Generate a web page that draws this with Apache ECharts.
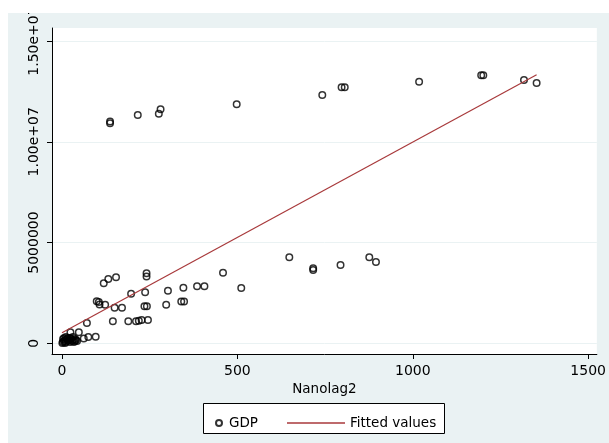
<!DOCTYPE html>
<html>
<head>
<meta charset="utf-8">
<style>html,body{margin:0;padding:0;background:#fff;}#c{width:609px;height:443px;}</style>
<script src="https://cdn.jsdelivr.net/npm/echarts@6/dist/echarts.min.js"></script>
</head>
<body>
<div id="c"></div>
<script>
// Nanolag2 (x) and GDP (y) values
const nanolag2 = [3,6,9,11,14,17,20,23,26,29,31,34,37,40,43,6,11,17,1,3,9,23,31,37,
  24,48,71,62,75,96,
  99,105,107,123,119,132,154,145,150,171,189,197,211,219,227,245,237,235,242,241,241,297,302,340,348,346,385,406,459,511,
  648,716,716,794,876,895,
  137,137,216,281,276,498,742,797,806,1018,1195,1201,1317,1353];
const gdp = [65000,114000,164000,65000,213000,114000,164000,65000,213000,114000,164000,65000,114000,164000,114000,263000,313000,263000,15000,213000,15000,263000,313000,213000,
  546000,546000,1007000,238000,313000,327000,
  2084000,2049000,1925000,1915000,2977000,3190000,3275000,1097000,1761000,1766000,1092000,2456000,1092000,1121000,1156000,1156000,2531000,1841000,1841000,3320000,3480000,1915000,2605000,2074000,2074000,2754000,2828000,2828000,3503000,2744000,
  4267000,3640000,3730000,3885000,4267000,4034000,
  10920000,11010000,11328000,11611000,11393000,11859000,12321000,12703000,12703000,12980000,13298000,13298000,13065000,12916000];
// Fitted values line endpoints
const fitX = [0, 1353];
const fitY = [526000, 13330000];
// Tick values and labels
const xTicks = [0, 500, 1000, 1500];
const xTickLabels = ['0', '500', '1000', '1500'];
const yTicks = [0, 5000000, 10000000, 15000000];
const yTickLabels = ['0', '5000000', '1.00e+07', '1.50e+07'];

const scatterData = nanolag2.map((x, i) => [x, gdp[i]]);
const fitData = fitX.map((x, i) => [x, fitY[i]]);
const FONT = 'DejaVu Sans';
const FIT_COLOR = '#a8393b';

const chart = echarts.init(document.getElementById('c'), null, {renderer: 'canvas'});
chart.setOption({
  backgroundColor: '#eaf2f3',
  animation: false,
  textStyle: {fontFamily: FONT},
  grid: {left: 52, right: 12, top: 28, bottom: 89, show: true, backgroundColor: '#ffffff', borderWidth: 0},
  xAxis: {
    type: 'value', min: -28.5, max: 1524.7,
    name: 'Nanolag2', nameLocation: 'middle', nameGap: 22,
    nameTextStyle: {color: '#000', fontSize: 13.5, fontFamily: FONT},
    axisLine: {show: true, onZero: false, lineStyle: {color: '#000', width: 1}},
    axisTick: {show: true, length: 5, customValues: xTicks, lineStyle: {color: '#000'}},
    axisLabel: {
      customValues: xTicks, color: '#000', fontSize: 14, margin: 10, fontFamily: FONT,
      formatter: v => { const i = xTicks.indexOf(v); return i >= 0 ? xTickLabels[i] : ''; }
    },
    splitLine: {show: false}
  },
  yAxis: {
    type: 'value', min: -531000, max: 15645000,
    axisLine: {show: true, onZero: false, lineStyle: {color: '#000', width: 1}},
    axisTick: {show: true, length: 5, customValues: yTicks, lineStyle: {color: '#000'}},
    axisLabel: {
      customValues: yTicks, rotate: 90, color: '#000', fontSize: 14, margin: 11, fontFamily: FONT,
      formatter: v => { const i = yTicks.indexOf(v); return i >= 0 ? yTickLabels[i] : ''; }
    },
    splitLine: {show: true, lineStyle: {color: '#eaf2f3', width: 1}}
  },
  legend: [
    {z: 10, left: 210, top: 411, itemWidth: 6, itemHeight: 6, itemGap: 0, data: ['GDP'],
     textStyle: {color: '#000', fontSize: 13.5, fontFamily: FONT, padding: [0,0,0,2]}},
    {z: 10, left: 282, top: 411, itemWidth: 58, itemHeight: 1.3, itemGap: 0,
     data: [{name: 'Fitted values', icon: 'rect', itemStyle: {color: FIT_COLOR}}],
     textStyle: {color: '#000', fontSize: 13.5, fontFamily: FONT, padding: [0,0,0,0]}}
  ],
  graphic: [
    {type: 'rect', z: 100, shape: {x: 0, y: 0, width: 609, height: 13}, style: {fill: '#ffffff'}, silent: true},
    {type: 'rect', z: 100, shape: {x: 0, y: 0, width: 8, height: 443}, style: {fill: '#ffffff'}, silent: true},
    {type: 'rect', z: 1, shape: {x: 203.5, y: 403.5, width: 241, height: 30}, style: {fill: '#ffffff', stroke: '#000', lineWidth: 1}, silent: true}
  ],
  series: [
    {
      name: 'GDP', type: 'scatter', data: scatterData, symbol: 'circle', symbolSize: 6.5,
      itemStyle: {color: 'rgba(0,0,0,0)', borderColor: '#000', borderWidth: 1.5},
      z: 3
    },
    {
      name: 'Fitted values', type: 'line', data: fitData, symbol: 'none', showSymbol: false,
      lineStyle: {color: FIT_COLOR, width: 1.2}, itemStyle: {color: FIT_COLOR},
      z: 4
    }
  ]
});
</script>
</body>
</html>
